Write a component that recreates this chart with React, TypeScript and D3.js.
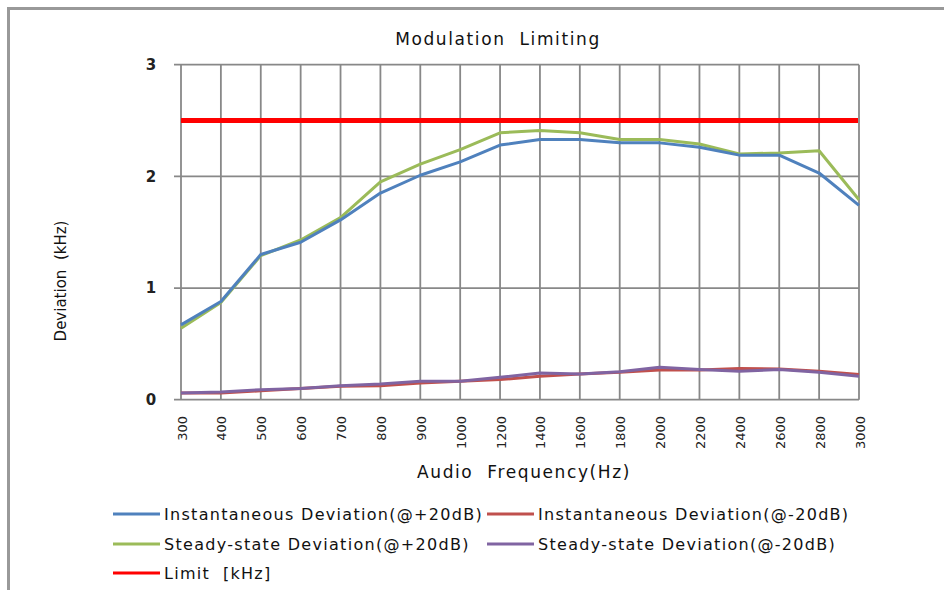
import React from "react";
import * as d3 from "d3";

const categories = ["300","400","500","600","700","800","900","1000","1200","1400","1600","1800","2000","2200","2400","2600","2800","3000"];
const instPlus = [0.67,0.88,1.30,1.41,1.61,1.85,2.01,2.13,2.28,2.33,2.33,2.30,2.30,2.26,2.19,2.19,2.03,1.74];
const instMinus = [0.06,0.06,0.08,0.10,0.12,0.125,0.15,0.165,0.18,0.21,0.23,0.245,0.265,0.265,0.28,0.275,0.255,0.225];
const steadyPlus = [0.64,0.87,1.29,1.43,1.63,1.95,2.11,2.24,2.39,2.41,2.39,2.33,2.33,2.29,2.20,2.21,2.23,1.79];
const steadyMinus = [0.06,0.07,0.09,0.10,0.125,0.14,0.165,0.165,0.20,0.24,0.23,0.25,0.29,0.27,0.255,0.27,0.245,0.21];
const limitValue = 2.5;
const yTicks = [0, 1, 2, 3];

const seriesList = [
  { name: "Instantaneous Deviation(@+20dB)", values: instPlus, color: "#4F81BD" },
  { name: "Instantaneous Deviation(@-20dB)", values: instMinus, color: "#C0504D" },
  { name: "Steady-state Deviation(@+20dB)", values: steadyPlus, color: "#9BBB59" },
  { name: "Steady-state Deviation(@-20dB)", values: steadyMinus, color: "#8064A2" },
];

export default function App() {
  const W = 944, H = 590;
  const left = 181, right = 859, top = 64.7, bottom = 399.7;
  const x = d3.scalePoint<string>().domain(categories).range([left, right]);
  const y = d3.scaleLinear().domain([0, 3]).range([bottom, top]);
  const line = d3.line<number>().x((_, i) => x(categories[i])!).y((d) => y(d));
  const font = "'DejaVu Sans', Verdana, sans-serif";
  const grid = "#888";

  const legend = [
    { name: seriesList[0].name, color: seriesList[0].color, lx: 113, ly: 514 },
    { name: seriesList[1].name, color: seriesList[1].color, lx: 487, ly: 514 },
    { name: seriesList[2].name, color: seriesList[2].color, lx: 113, ly: 544 },
    { name: seriesList[3].name, color: seriesList[3].color, lx: 487, ly: 544 },
    { name: "Limit  [kHz]", color: "#FF0000", lx: 113, ly: 573 },
  ];

  return (
    <svg width={W} height={H} style={{ position: "absolute", left: 0, top: 0, background: "#fff" }}>
      <rect x={0} y={0} width={W} height={H} fill="#fff" />
      <path d={`M8.5,${H} V8.5 H${W}`} fill="none" stroke="#999" strokeWidth={3} />
      <text x={498} y={45} textAnchor="middle" fontFamily={font} fontSize={17} letterSpacing={1.6} fill="#111" style={{ whiteSpace: "pre" }}>
        {"Modulation  Limiting"}
      </text>
      {/* horizontal grid */}
      {yTicks.map((t) => (
        <line key={"h" + t} x1={174} x2={right} y1={y(t)} y2={y(t)} stroke={grid} strokeWidth={1.8} />
      ))}
      {/* vertical grid */}
      {categories.map((c) => (
        <line key={"v" + c} x1={x(c)} x2={x(c)} y1={top} y2={bottom} stroke={grid} strokeWidth={1.8} />
      ))}
      {yTicks.map((t) => (
        <text key={"yt" + t} x={151} y={y(t)} dy="0.36em" textAnchor="middle" fontFamily={font} fontSize={15} fontWeight="bold" fill="#222">
          {t}
        </text>
      ))}
      {categories.map((c) => (
        <text
          key={"xt" + c}
          transform={`translate(${x(c)! + 1},${416}) rotate(-90)`}
          textAnchor="end"
          dominantBaseline="central"
          fontFamily={font}
          fontSize={13}
          fill="#222"
        >
          {c}
        </text>
      ))}
      <text transform={`translate(61,281) rotate(-90)`} textAnchor="middle" dominantBaseline="central" fontFamily={font} fontSize={15} fill="#111" style={{ whiteSpace: "pre" }}>
        {"Deviation  (kHz)"}
      </text>
      <text x={524} y={478} textAnchor="middle" fontFamily={font} fontSize={17} letterSpacing={1.6} fill="#111" style={{ whiteSpace: "pre" }}>
        {"Audio  Frequency(Hz)"}
      </text>
      {/* limit */}
      <line x1={left} x2={right - 1} y1={y(limitValue)} y2={y(limitValue)} stroke="#FF0000" strokeWidth={5} />
      {/* series */}
      {[seriesList[1], seriesList[3], seriesList[2], seriesList[0]].map((s) => (
        <path key={s.name} d={line(s.values)!} fill="none" stroke={s.color} strokeWidth={3} strokeLinejoin="round" />
      ))}
      {/* legend */}
      {legend.map((l) => (
        <g key={l.name}>
          <line x1={l.lx} x2={l.lx + 47} y1={l.ly} y2={l.ly} stroke={l.color} strokeWidth={3} />
          <text x={l.lx + 51} y={l.ly} dy="0.35em" fontFamily={font} fontSize={16} letterSpacing={1.3} fill="#111" style={{ whiteSpace: "pre" }}>
            {l.name}
          </text>
        </g>
      ))}
    </svg>
  );
}
